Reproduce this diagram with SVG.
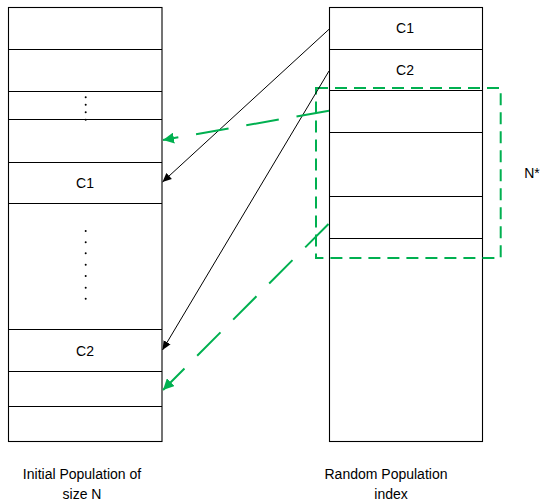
<svg xmlns="http://www.w3.org/2000/svg" width="543" height="501" viewBox="0 0 543 501">
  <style>
    .cell { fill: #ffffff; stroke: #000000; stroke-width: 1.1; }
    .sep { stroke: #000000; stroke-width: 1.1; }
    .lbl { font-family: "Liberation Sans", Arial, sans-serif; font-size: 14px; fill: #000000; text-anchor: middle; }
    .dot { fill: #000000; }
    .link { fill: none; stroke: #000000; stroke-width: 1; }
    .glink { fill: none; stroke: #00b050; stroke-width: 2; stroke-dasharray: 33 18; }
    .region { fill: none; stroke: #00b050; stroke-width: 2; stroke-dasharray: 12 7; }
  </style>
  <defs>
    <marker id="arrBlack" viewBox="0 0 10 10" refX="10" refY="5" markerWidth="9" markerHeight="9" markerUnits="userSpaceOnUse" orient="auto">
      <path d="M0,0.5 L10,5 L0,9.5 Z" fill="#000000"/>
    </marker>
    <marker id="arrGreen" viewBox="0 0 10 10" refX="10" refY="5" markerWidth="11" markerHeight="11" markerUnits="userSpaceOnUse" orient="auto">
      <path d="M0,0 L10,5 L0,10 Z" fill="#00b050"/>
    </marker>
  </defs>
  <rect width="543" height="501" fill="#ffffff"/>

  <!-- Initial population column -->
  <g id="initial-population">
    <rect class="cell" x="8.5" y="7.5" width="153.5" height="434"/>
    <line class="sep" x1="8.5" y1="49.5" x2="162" y2="49.5"/>
    <line class="sep" x1="8.5" y1="91.5" x2="162" y2="91.5"/>
    <line class="sep" x1="8.5" y1="119.5" x2="162" y2="119.5"/>
    <line class="sep" x1="8.5" y1="162.5" x2="162" y2="162.5"/>
    <line class="sep" x1="8.5" y1="203.5" x2="162" y2="203.5"/>
    <line class="sep" x1="8.5" y1="329.5" x2="162" y2="329.5"/>
    <line class="sep" x1="8.5" y1="371.5" x2="162" y2="371.5"/>
    <line class="sep" x1="8.5" y1="406.5" x2="162" y2="406.5"/>
    <g id="dots-top">
      <circle class="dot" cx="85.7" cy="97.3" r="1"/>
      <circle class="dot" cx="85.7" cy="104.7" r="1"/>
      <circle class="dot" cx="85.7" cy="112.3" r="1"/>
      <circle class="dot" cx="85.7" cy="119.8" r="1"/>
    </g>
    <g id="dots-middle">
      <circle class="dot" cx="85.7" cy="231" r="1"/>
      <circle class="dot" cx="85.7" cy="242.3" r="1"/>
      <circle class="dot" cx="85.7" cy="253.3" r="1"/>
      <circle class="dot" cx="85.7" cy="264.7" r="1"/>
      <circle class="dot" cx="85.7" cy="276" r="1"/>
      <circle class="dot" cx="85.7" cy="287.7" r="1"/>
      <circle class="dot" cx="85.7" cy="298.7" r="1"/>
    </g>
    <text class="lbl" x="85" y="188.3">C1</text>
    <text class="lbl" x="85" y="355.8">C2</text>
    <text class="lbl" x="82" y="478.5">Initial Population of</text>
    <text class="lbl" x="82" y="499">size N</text>
  </g>

  <!-- Random population index column -->
  <g id="random-index">
    <rect class="cell" x="329.5" y="7.5" width="153" height="434"/>
    <line class="sep" x1="329.5" y1="49.5" x2="482.5" y2="49.5"/>
    <line class="sep" x1="329.5" y1="90.5" x2="482.5" y2="90.5"/>
    <line class="sep" x1="329.5" y1="132.5" x2="482.5" y2="132.5"/>
    <line class="sep" x1="329.5" y1="196.5" x2="482.5" y2="196.5"/>
    <line class="sep" x1="329.5" y1="238.5" x2="482.5" y2="238.5"/>
    <text class="lbl" x="405" y="33.3">C1</text>
    <text class="lbl" x="405" y="75.3">C2</text>
    <text class="lbl" x="386" y="478.5">Random Population</text>
    <text class="lbl" x="391" y="499">index</text>
  </g>

  <!-- N* selection region -->
  <g id="selection">
    <rect class="region" x="316" y="88" width="184.7" height="170"/>
    <text class="lbl" x="532" y="178">N*</text>
  </g>

  <!-- Connectors -->
  <g id="connectors">
    <line class="link" x1="329" y1="29.3" x2="162.5" y2="182" marker-end="url(#arrBlack)"/>
    <line class="link" x1="329" y1="71" x2="162.5" y2="350" marker-end="url(#arrBlack)"/>
    <line class="glink" x1="329" y1="110.7" x2="163" y2="140" marker-end="url(#arrGreen)"/>
    <line class="glink" x1="328.5" y1="224" x2="163" y2="390" marker-end="url(#arrGreen)"/>
  </g>
</svg>
